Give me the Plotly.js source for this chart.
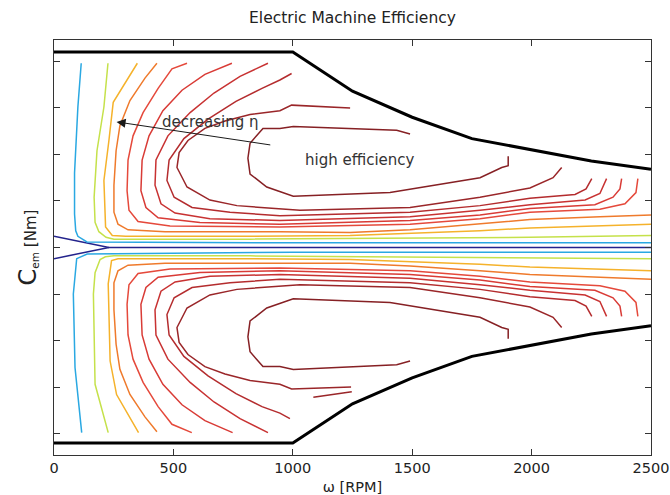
<!DOCTYPE html>
<html>
<head>
<meta charset="utf-8">
<script src="https://cdn.plot.ly/plotly-3.0.1.min.js"></script>
<style>
  html, body { margin: 0; padding: 0; background: #fff; }
  #chart { width: 670px; height: 495px; }
</style>
</head>
<body>
<div id="chart"></div>
<script>
// Axis ticks
const speedTicks = [0, 500, 1000, 1500, 2000, 2500];
const torqueTicks = [-200, -150, -100, -50, 0, 50, 100, 150, 200];

// Torque limit envelope (constant torque, then constant power)
const limitRpm = [0, 1000, 1250, 1500, 1750, 2000, 2250, 2500];
const limitTopNm = [210, 210, 168, 140, 117, 105, 93, 84];
const limitBottomNm = [-210, -210, -168, -140, -117, -105, -93, -84];

// Iso-efficiency lines, lowest level (1) to highest (11); upper and lower half
const lvl1UpRpm = [0, 230, 2500];
const lvl1UpNm = [12, 0, 0];
const lvl1LoRpm = [0, 230];
const lvl1LoNm = [-12, 0];

const lvl2UpRpm = [114, 100, 86, 86, 91, 100, 138, 1000, 2500];
const lvl2UpNm = [198, 151, 80, 36, 18, 12, 6, 5, 5];
const lvl2LoRpm = [2500, 1000, 139, 95, 81, 88, 116];
const lvl2LoNm = [-5, -5, -7, -12, -50, -129, -199];

const lvl3UpRpm = [226, 209, 180, 168, 172, 188, 218, 251, 821, 1491, 1993, 2500];
const lvl3UpNm = [198, 151, 104, 54, 27, 17, 11, 9, 9, 10, 11, 13];
const lvl3LoRpm = [2500, 1993, 1491, 821, 251, 215, 193, 172, 165, 172, 227];
const lvl3LoNm = [-12, -11, -10, -9, -9, -10, -13, -27, -50, -147, -199];

const lvl4UpRpm = [349, 248, 230, 209, 216, 244, 300, 821, 1240, 1491, 1784, 1993, 2286, 2500];
const lvl4UpNm = [198, 156, 115, 72, 22, 13, 12, 12, 13, 15, 18, 21, 23, 25];
const lvl4LoRpm = [2500, 2286, 1993, 1784, 1491, 1240, 821, 268, 241, 227, 235, 262, 354];
const lvl4LoNm = [-25, -23, -21, -18, -15, -13, -12, -12, -14, -39, -122, -158, -199];

const lvl5UpRpm = [431, 381, 318, 276, 260, 251, 251, 268, 310, 465, 946, 1240, 1491, 1784, 1993, 2286, 2500];
const lvl5UpNm = [198, 182, 158, 131, 104, 67, 38, 25, 19, 17, 17, 16, 19, 25, 30, 33, 35];
const lvl5LoRpm = [2500, 2286, 1993, 1784, 1491, 1240, 946, 465, 310, 268, 251, 251, 260, 276, 318, 381, 431];
const lvl5LoNm = [-34, -32, -29, -25, -20, -17, -17, -17, -19, -25, -38, -67, -104, -131, -158, -182, -198];

const lvl6UpRpm = [557, 494, 436, 373, 331, 310, 306, 314, 352, 486, 946, 1491, 1784, 1993, 2286, 2391, 2437, 2445];
const lvl6UpNm = [198, 192, 171, 145, 120, 94, 61, 40, 28, 23, 22, 25, 31, 38, 41, 47, 59, 74];
const lvl6LoRpm = [2445, 2437, 2391, 2286, 1993, 1784, 1491, 946, 486, 352, 314, 306, 310, 331, 373, 436, 494, 577];
const lvl6LoNm = [-74, -59, -47, -41, -37, -31, -25, -22, -23, -28, -40, -61, -94, -120, -145, -171, -190, -199];

const lvl7UpRpm = [745, 632, 536, 456, 398, 369, 364, 385, 436, 611, 946, 1491, 1784, 1993, 2265, 2341, 2370, 2377];
const lvl7UpNm = [198, 186, 169, 147, 120, 94, 61, 43, 32, 27, 25, 29, 35, 42, 46, 54, 63, 74];
const lvl7LoRpm = [2377, 2370, 2341, 2265, 1993, 1784, 1491, 946, 611, 436, 385, 364, 369, 398, 456, 536, 632, 748];
const lvl7LoNm = [-74, -63, -54, -46, -42, -35, -29, -25, -27, -32, -43, -61, -94, -120, -147, -169, -186, -199];

const lvl8UpRpm = [896, 779, 670, 570, 477, 427, 423, 448, 507, 653, 946, 1491, 1784, 1993, 2224, 2286, 2314];
const lvl8UpNm = [198, 184, 166, 145, 120, 94, 67, 47, 37, 31, 29, 33, 40, 46, 51, 58, 74];
const lvl8LoRpm = [2314, 2286, 2224, 1993, 1784, 1491, 946, 653, 507, 448, 423, 427, 477, 570, 670, 779, 896];
const lvl8LoNm = [-74, -58, -51, -46, -40, -33, -29, -31, -37, -47, -67, -94, -120, -145, -166, -184, -199];

const lvl9UpRpm = [995, 946, 871, 762, 645, 544, 482, 473, 503, 578, 737, 946, 1491, 1784, 1993, 2182, 2228, 2252];
const lvl9UpNm = [187, 180, 171, 157, 138, 117, 94, 72, 54, 43, 38, 34, 38, 45, 53, 57, 63, 74];
const lvl9LoRpm = [2252, 2228, 2182, 1993, 1784, 1491, 946, 737, 578, 503, 473, 482, 544, 645, 762, 871, 946, 988];
const lvl9LoNm = [-74, -63, -57, -53, -45, -38, -34, -38, -43, -54, -72, -94, -117, -138, -157, -171, -178, -184];

const lvl10UpRpm = [1240, 995, 946, 821, 716, 632, 561, 524, 515, 557, 653, 766, 1030, 1491, 1784, 1993, 2090, 2126];
const lvl10UpNm = [150, 153, 147, 143, 136, 128, 115, 102, 86, 65, 51, 45, 40, 43, 54, 64, 75, 86];
const lvl10LoRpm = [2126, 2090, 1993, 1784, 1491, 1030, 766, 653, 557, 515, 524, 561, 632, 716, 821, 946, 995, 1244];
const lvl10LoNm = [-86, -75, -64, -54, -43, -40, -45, -51, -65, -86, -102, -115, -128, -136, -143, -147, -152, -150];
const lvl10PieceRpm = [1086, 1247];
const lvl10PieceNm = [-161, -155];

const lvl11UpRpm = [1491, 1435, 1002, 946, 875, 821, 812, 821, 891, 1002, 1407, 1784, 1875, 1902, 1902];
const lvl11UpNm = [122, 126, 130, 128, 128, 112, 96, 79, 65, 55, 59, 75, 86, 88, 98];
const lvl11LoRpm = [1902, 1902, 1875, 1784, 1407, 1002, 891, 821, 812, 821, 875, 946, 1002, 1435, 1491];
const lvl11LoNm = [-98, -88, -86, -75, -59, -55, -65, -79, -96, -112, -128, -128, -131, -126, -122];

// Line colours per level (jet-like colormap)
const levelColors = ['#23238c', '#2aa8e2', '#c5e14a', '#f5b22b', '#ef7a2c',
                     '#e5493b', '#d93b36', '#c83232', '#b42c2e', '#9a2629', '#862024'];

const traces = [];
function addLine(rpm, nm, color, width) {
  traces.push({
    type: 'scatter', mode: 'lines', x: rpm, y: nm,
    line: { color: color, width: width },
    hoverinfo: 'skip', showlegend: false
  });
}

const levels = [
  [lvl1UpRpm, lvl1UpNm, lvl1LoRpm, lvl1LoNm],
  [lvl2UpRpm, lvl2UpNm, lvl2LoRpm, lvl2LoNm],
  [lvl3UpRpm, lvl3UpNm, lvl3LoRpm, lvl3LoNm],
  [lvl4UpRpm, lvl4UpNm, lvl4LoRpm, lvl4LoNm],
  [lvl5UpRpm, lvl5UpNm, lvl5LoRpm, lvl5LoNm],
  [lvl6UpRpm, lvl6UpNm, lvl6LoRpm, lvl6LoNm],
  [lvl7UpRpm, lvl7UpNm, lvl7LoRpm, lvl7LoNm],
  [lvl8UpRpm, lvl8UpNm, lvl8LoRpm, lvl8LoNm],
  [lvl9UpRpm, lvl9UpNm, lvl9LoRpm, lvl9LoNm],
  [lvl10UpRpm, lvl10UpNm, lvl10LoRpm, lvl10LoNm],
  [lvl11UpRpm, lvl11UpNm, lvl11LoRpm, lvl11LoNm]
];
levels.forEach(function (lv, i) {
  addLine(lv[0], lv[1], levelColors[i], 1.5);
  addLine(lv[2], lv[3], levelColors[i], 1.5);
});
addLine(lvl10PieceRpm, lvl10PieceNm, levelColors[9], 1.5);

// Envelope drawn last, on top
addLine(limitRpm, limitTopNm, '#000', 3);
addLine(limitRpm, limitBottomNm, '#000', 3);

const layout = {
  width: 670, height: 495,
  margin: { l: 54, r: 19, t: 40, b: 40 },
  paper_bgcolor: '#fff', plot_bgcolor: '#fff',
  font: { family: 'DejaVu Sans, sans-serif', color: '#222' },
  showlegend: false,
  hovermode: false,
  title: {
    text: 'Electric Machine Efficiency',
    font: { size: 15.5, color: '#222' },
    x: 0.5, xref: 'paper', xanchor: 'center',
    y: 1 - 18 / 495, yref: 'container', yanchor: 'middle'
  },
  xaxis: {
    range: [0, 2500], tickvals: speedTicks, ticktext: speedTicks.map(String),
    ticks: 'inside', ticklen: 6, tickcolor: '#333',
    showline: true, linecolor: '#333', linewidth: 1, mirror: 'allticks',
    showgrid: false, zeroline: false,
    ticklabeloverflow: 'allow',
    tickfont: { size: 14.5, color: '#222' },
    title: { text: 'ω [RPM]', font: { size: 14.5, color: '#222' }, standoff: 6 }
  },
  yaxis: {
    range: [-223, 223], tickvals: torqueTicks, showticklabels: false,
    ticks: 'inside', ticklen: 6, tickcolor: '#333',
    showline: true, linecolor: '#333', linewidth: 1, mirror: 'allticks',
    showgrid: false, zeroline: false,
    title: {
      text: '<span style="font-size:24px">C</span><sub>em</sub> [Nm]',
      font: { size: 15, color: '#222' }, standoff: 12
    }
  },
  annotations: [
    {
      xref: 'x', yref: 'y', axref: 'x', ayref: 'y',
      x: 262, y: 135, ax: 912, ay: 110,
      text: '', showarrow: true, arrowhead: 2, arrowsize: 1.8,
      arrowwidth: 1, arrowcolor: '#1a1a1a', standoff: 0, startstandoff: 0
    },
    {
      xref: 'x', yref: 'y', x: 657, y: 135, text: 'decreasing η',
      showarrow: false, font: { size: 15, color: '#333' }
    },
    {
      xref: 'x', yref: 'y', x: 1281, y: 94, text: 'high efficiency',
      showarrow: false, font: { size: 15, color: '#333' }
    }
  ]
};

Plotly.newPlot('chart', traces, layout, { staticPlot: true, displayModeBar: false });
</script>
</body>
</html>
